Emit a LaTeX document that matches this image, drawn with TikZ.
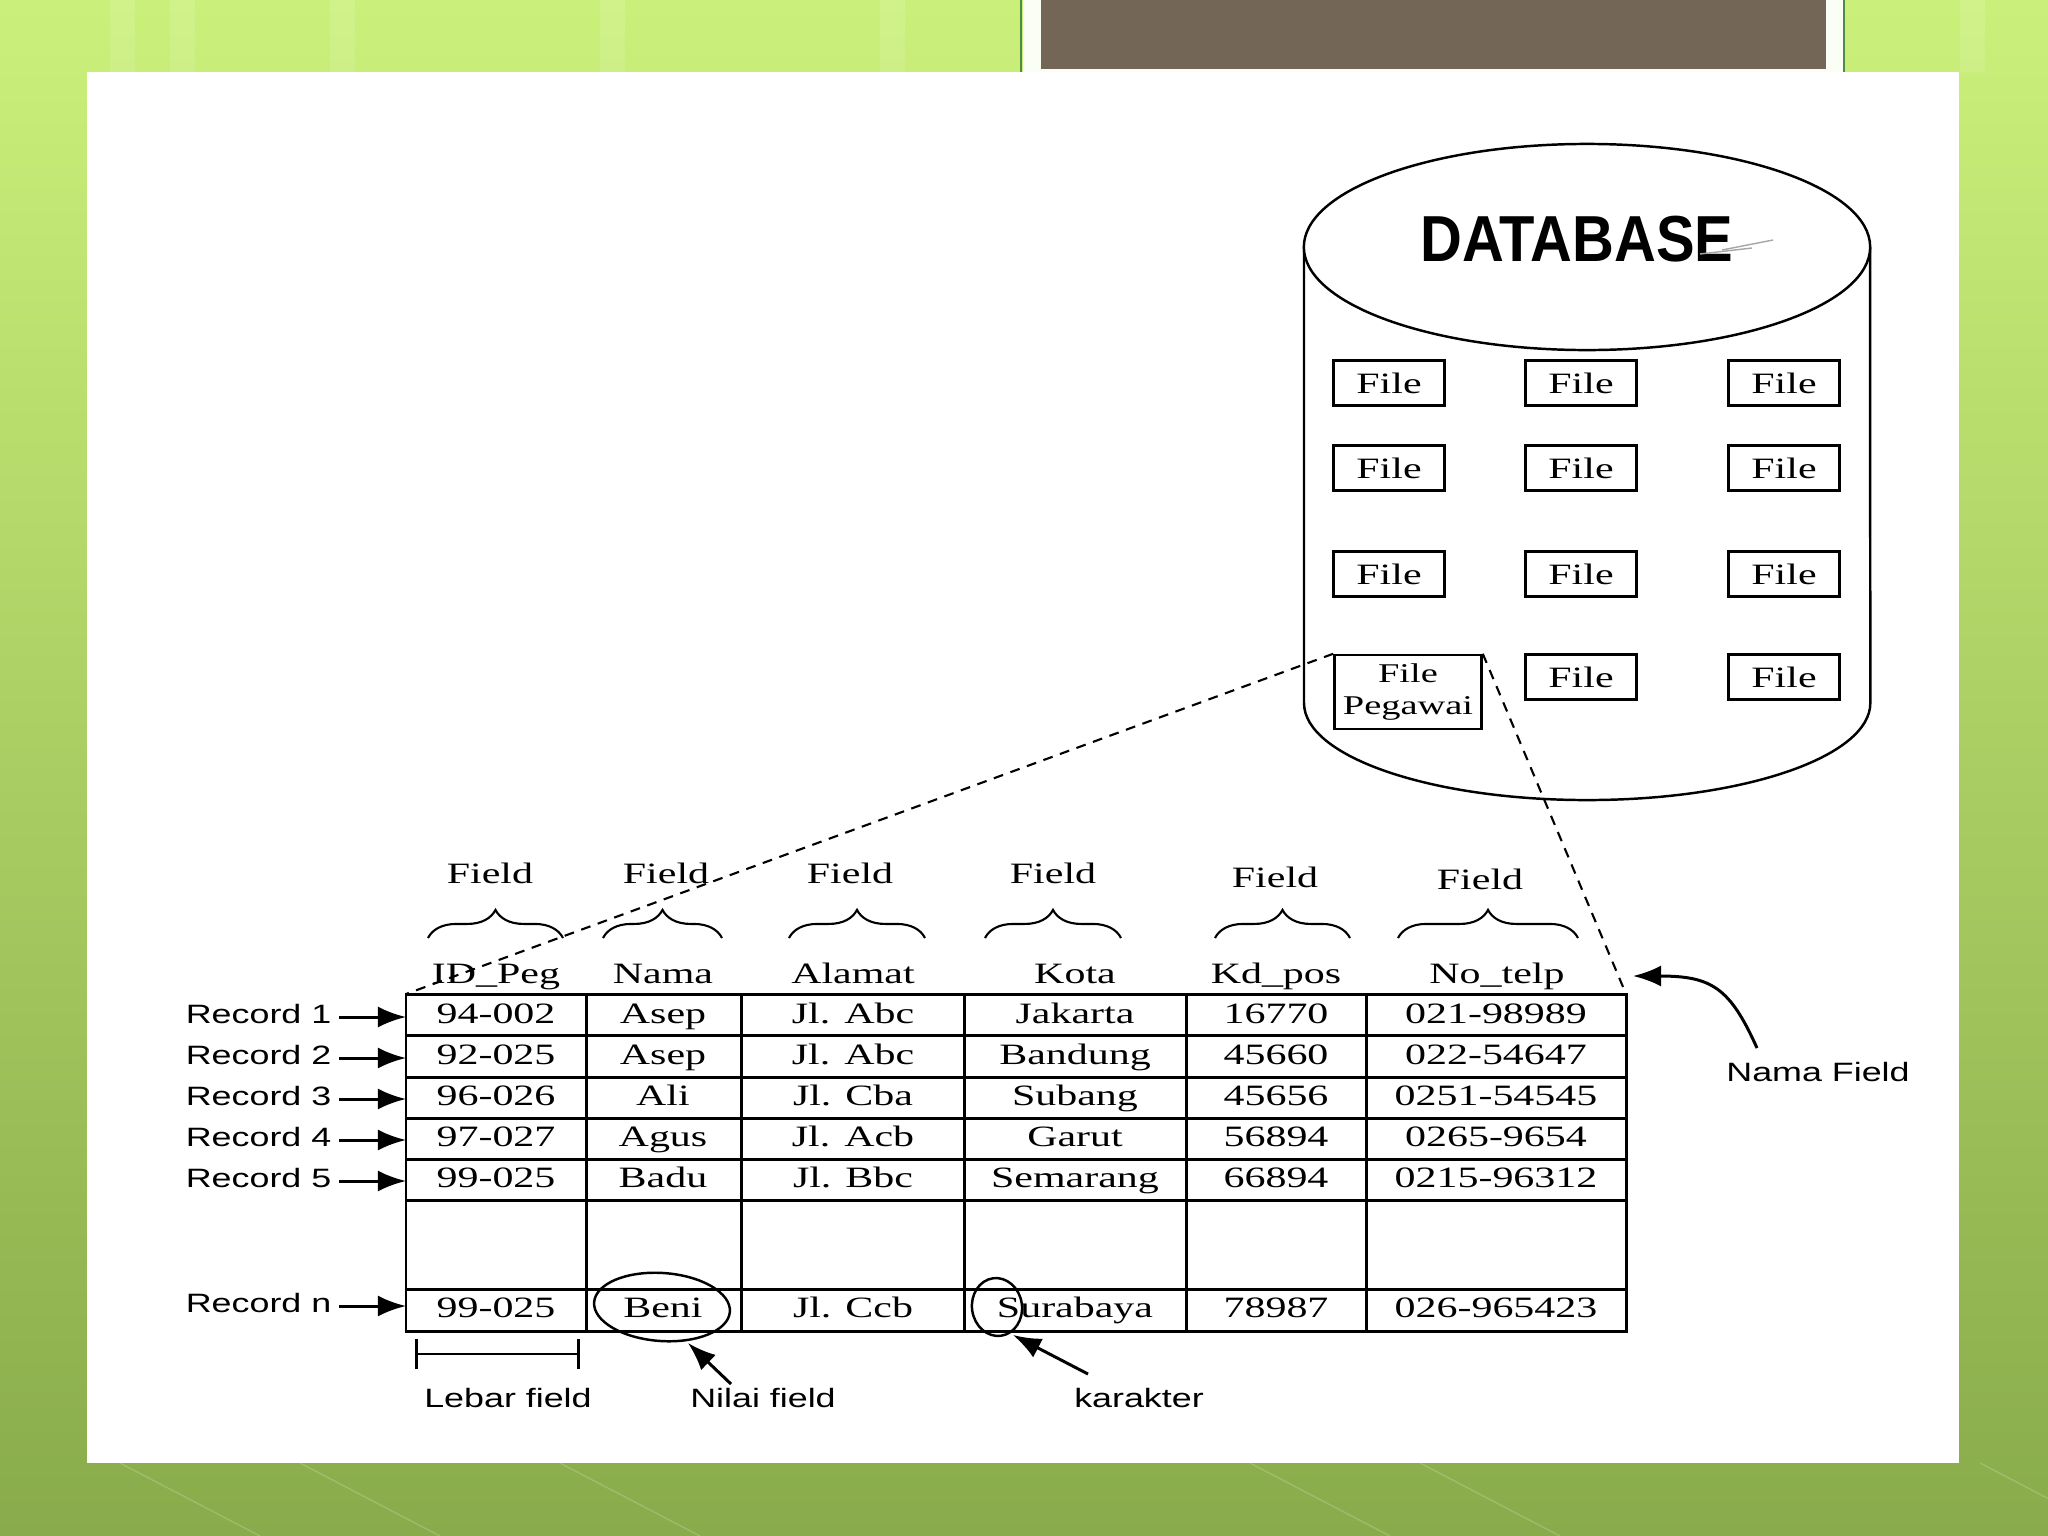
\documentclass[tikz,border=0pt]{standalone}
\usepackage{fontspec}
\usetikzlibrary{arrows.meta,decorations.pathreplacing}
\newfontfamily\serifwide{Liberation Serif}[FakeStretch=1.42]
\newfontfamily\sanswide{Liberation Sans}[FakeStretch=1.35]
\newfontfamily\dbfont{Liberation Sans Bold}[FakeStretch=0.89]
\definecolor{slidetop}{HTML}{CBF07A}
\definecolor{slidemid}{HTML}{A9D55C}
\definecolor{slidebot}{HTML}{89AB4B}
\definecolor{titlebrown}{HTML}{736656}

\begin{document}
\begin{tikzpicture}[x=0.01cm, y=-0.01cm,
	cell/.style={font=\serifwide\fontsize{8.4}{10}\selectfont, inner sep=0pt, anchor=base},
	filebox/.style={draw, line width=0.7pt, minimum width=1.11cm, minimum height=0.45cm,
		inner sep=1pt, font=\serifwide\fontsize{8.4}{9.1}\selectfont},
	lbl/.style={font=\sanswide\fontsize{7.55}{9}\selectfont, inner sep=0pt},
	tip/.style={-{Latex[length=8pt,width=6pt]}, line width=0.85pt},
	fieldbrace/.style={decorate, decoration={brace, amplitude=8pt}, line width=0.6pt},
	link/.style={dash pattern=on 2.8pt off 2.2pt, line width=0.6pt},
	gridline/.style={line width=0.85pt}
]

	% slide background
	\useasboundingbox (0,0) rectangle (2048,1536);
	\shade[top color=slidetop, middle color=slidemid, bottom color=slidebot] (0,0) rectangle (2048,1536);
	\foreach \xx in {110,170,330,600,880,1960}
		\fill[white, opacity=0.12] (\xx,0) rectangle (\xx+25,72);
	\foreach \xx in {120,300,560,1250,1420,1980}
		\draw[white, opacity=0.18, line width=0.4pt] (\xx,1463) -- (\xx+140,1536);
	\fill[white!92!slidetop] (1023,0) rectangle (1843,72);
	\draw[green!35!black!70, line width=0.5pt] (1021,0) -- (1021,72) (1844,0) -- (1844,72);
	\fill[titlebrown] (1041,0) rectangle (1826,69);
	\fill[white] (87,72) rectangle (1959,1463);

	% database cylinder
	\draw[line width=0.7pt] (1304,247) -- (1304,703)
		arc[start angle=180, end angle=360, x radius=2.83cm, y radius=0.97cm] -- (1870,247);
	\draw[line width=0.7pt, fill=white] (1587,247) ellipse [x radius=2.83cm, y radius=1.03cm];
	\node[font=\dbfont\fontsize{18.5}{20}\selectfont, inner sep=0pt] (dbtitle) at (1577,239) {DATABASE};
	\draw[gray!70, line width=0.4pt] (1722,250) -- (1773,240);
	\draw[gray!70, line width=0.4pt] (1700,254) -- (1752,248);

	% files inside the database
	\foreach \col/\xx in {1/1389,2/1581,3/1784}
		\foreach \row/\yy in {1/383,2/468,3/574}
			\node[filebox] (file\row\col) at (\xx,\yy) {File};
	\node[filebox] (file42) at (1581,677) {File};
	\node[filebox] (file43) at (1784,677) {File};
	\node[filebox, align=center, minimum width=1.47cm, minimum height=0.74cm,
		font=\serifwide\fontsize{7.7}{9.1}\selectfont] (filepeg) at (1408,692) {File\\Pegawai};

	% table grid
	\coordinate (tblNW) at (406,994);
	\coordinate (tblNE) at (1626,994);
	\draw[gridline] (406,994) rectangle (1626,1331);
	\foreach \xx in {586,741,964,1186,1366}
		\draw[gridline] (\xx,994) -- (\xx,1331);
	\foreach \yy in {1035.5,1077,1118,1159,1200,1289}
		\draw[gridline] (406,\yy) -- (1626,\yy);

	% field names and braces
	\foreach \i/\xx/\yy/\name in {1/496/983/ID\_Peg, 2/663/983/Nama, 3/853/983/Alamat,
			4/1075/983/Kota, 5/1276/983/Kd\_pos, 6/1497/983/No\_telp}
		\node[cell] (head\i) at (\xx,\yy) {\name};
	\foreach \i/\xa/\xb/\xx/\yy in {1/428/563/490/883, 2/603/722/666/883, 3/789/925/850/883,
			4/985/1121/1053/883, 5/1215/1350/1275/887, 6/1398/1578/1480/889} {
		\draw[fieldbrace] (\xa,938) -- (\xb,938);
		\node[cell] (field\i) at (\xx,\yy) {Field};
	}

	% records
	\foreach \r/\yy/\lo/\va/\vb/\vc/\vd/\ve/\vf in {
			1/1023/0/94-002/Asep/Jl. Abc/Jakarta/16770/021-98989,
			2/1064/0/92-025/Asep/Jl. Abc/Bandung/45660/022-54647,
			3/1105/0/96-026/Ali/Jl. Cba/Subang/45656/0251-54545,
			4/1146/0/97-027/Agus/Jl. Acb/Garut/56894/0265-9654,
			5/1187/0/99-025/Badu/Jl. Bbc/Semarang/66894/0215-96312,
			n/1317/-5/99-025/Beni/Jl. Ccb/Surabaya/78987/026-965423} {
		\node[cell] (v\r-1) at (496,\yy) {\va};
		\node[cell] (v\r-2) at (663,\yy) {\vb};
		\node[cell] (v\r-3) at (853,\yy) {\vc};
		\node[cell] (v\r-4) at (1075,\yy) {\vd};
		\node[cell] (v\r-5) at (1276,\yy) {\ve};
		\node[cell] (v\r-6) at (1496,\yy) {\vf};
		\node[lbl, anchor=base east] (rec\r) at (332,\yy+\lo) {Record \r};
		\coordinate (rowin\r) at (406,\yy+\lo-6);
		\draw[tip, shorten <=2pt] (rec\r.east |- rowin\r) -- (rowin\r);
	}

	% link from file to table
	\draw[link] (filepeg.north west) -- (tblNW);
	\draw[link] (filepeg.north east) -- (tblNE);

	% annotations
	\draw[line width=0.7pt, rotate around={-4:(662,1307)}] (662,1307) ellipse [x radius=0.68cm, y radius=0.34cm];
	\draw[line width=0.7pt, rotate around={8:(997,1307)}] (997,1307) ellipse [x radius=0.25cm, y radius=0.29cm];
	\draw[line width=0.8pt, {Bar[width=8.3pt]}-{Bar[width=8.3pt]}] (415,1354) -- (580,1354);

	\node[lbl] (lebar) at (508,1398) {Lebar field};
	\node[lbl] (nilai) at (763,1398) {Nilai field};
	\node[lbl] (karakter) at (1139,1398) {karakter};
	\node[lbl] (namafield) at (1818,1072) {Nama Field};

	\coordinate (nilaifrom) at (731,1384);
	\coordinate (nilaito) at (688,1343);
	\coordinate (karfrom) at (1088,1374);
	\coordinate (karto) at (1013,1335);
	\coordinate (namafrom) at (1757,1048);
	\coordinate (namato) at (1633,976);
	\draw[tip] (nilaifrom) -- (nilaito);
	\draw[tip] (karfrom) -- (karto);
	\draw[tip] (namafrom) .. controls (1730,988) and (1712,976) .. (namato);

\end{tikzpicture}
\end{document}
